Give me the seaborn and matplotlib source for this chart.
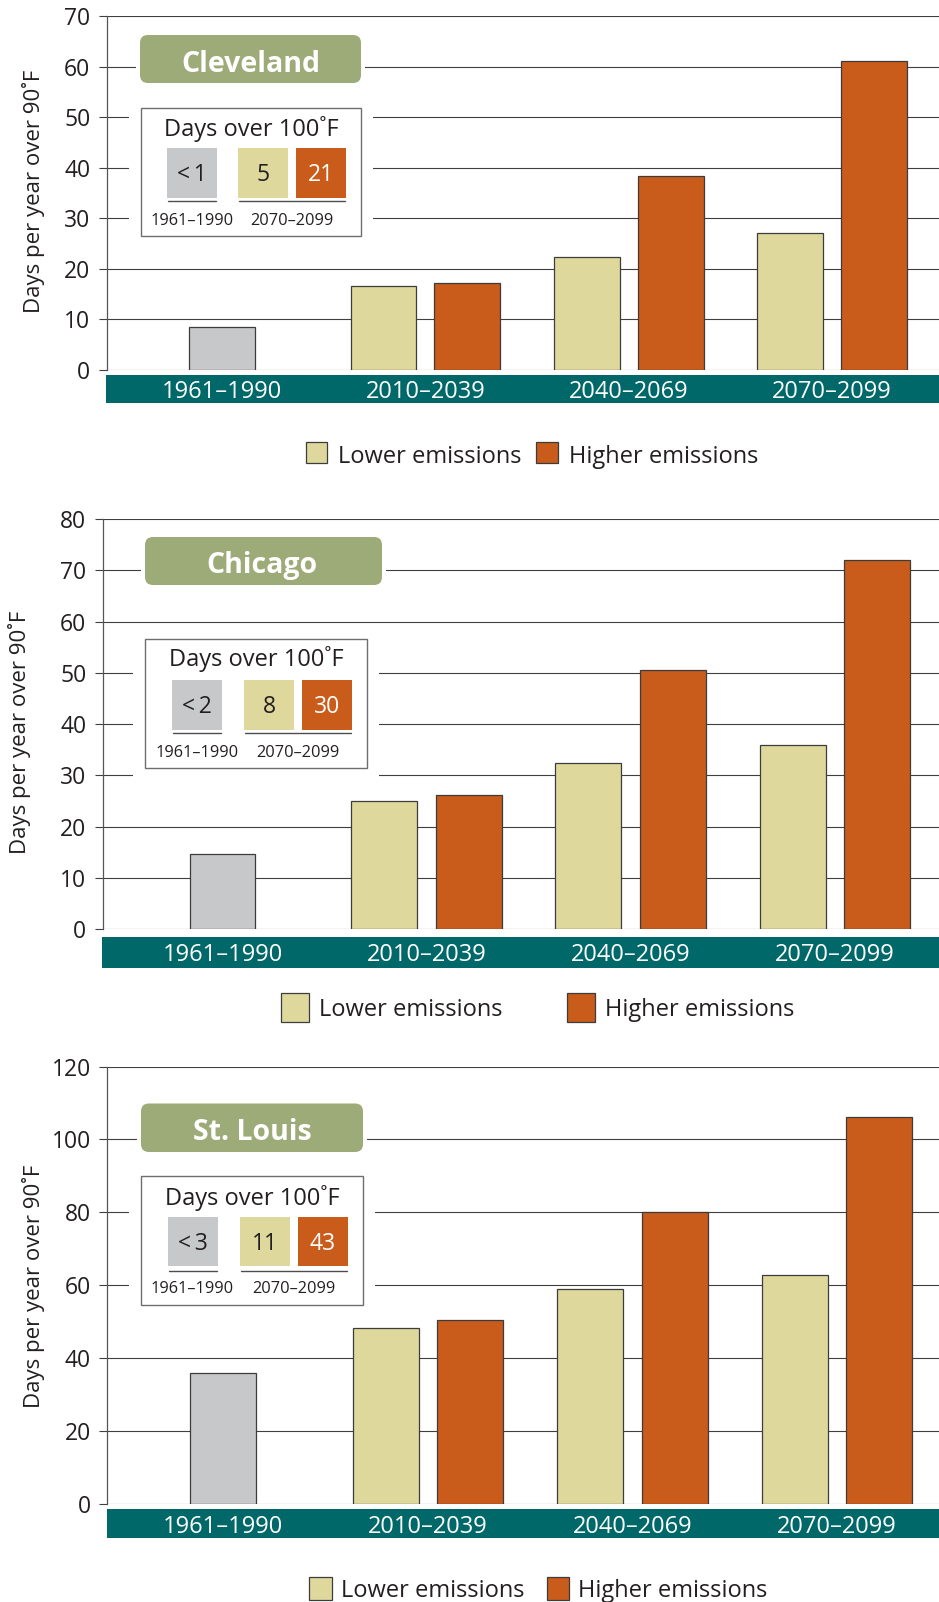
import matplotlib
matplotlib.use("Agg")
import matplotlib.pyplot as plt
import matplotlib.transforms as mtransforms
from matplotlib.patches import Rectangle, FancyBboxPatch
import pandas as pd
import seaborn as sns

# ---------------- data ----------------
periods = ["1961–1990", "2010–2039", "2040–2069", "2070–2099"]
scenarios = ["Lower emissions", "Higher emissions"]
cities = ["Cleveland", "Chicago", "St. Louis"]

cleveland_hist = [8.6]
cleveland_lower = [16.6, 22.4, 27.1]
cleveland_higher = [17.3, 38.3, 61.1]

chicago_hist = [14.6]
chicago_lower = [25.1, 32.4, 35.9]
chicago_higher = [26.2, 50.5, 72.0]

stlouis_hist = [36.1]
stlouis_lower = [48.4, 59.1, 62.9]
stlouis_higher = [50.4, 80.0, 106.1]

cleveland_over100 = ["<1", "5", "21"]
chicago_over100 = ["<2", "8", "30"]
stlouis_over100 = ["<3", "11", "43"]
inset_periods = ["1961–1990", "2070–2099"]

cleveland_yticks = [0, 10, 20, 30, 40, 50, 60, 70]
chicago_yticks = [0, 10, 20, 30, 40, 50, 60, 70, 80]
stlouis_yticks = [0, 20, 40, 60, 80, 100, 120]

ylabel_text = "Days per year over 90˚F"
inset_title_text = "Days over 100˚F"

# ---------------- style ----------------
GRAY = "#c7c8ca"
TAN = "#dfd89c"
ORANGE = "#c95c1b"
GREEN = "#9cab77"
TEAL = "#006869"
INK = "#231f20"
EDGE = "#3c3c3c"
GRID = "#3f3f3f"

W, H = 939, 1602
sns.set_style("white")
plt.rcParams["font.family"] = ["Open Sans", "DejaVu Sans"]

fig = plt.figure(figsize=(W / 100, H / 100), dpi=100)
fig.patch.set_facecolor("white")
overlay = fig.add_axes([0, 0, 1, 1], zorder=10)
overlay.set_xlim(0, W)
overlay.set_ylim(H, 0)
overlay.axis("off")
overlay.patch.set_alpha(0)

layouts = [
    dict(ax=(106.7, 16, 939, 370), xlim=(-0.567, 3.525), ylab=(34, 191.5),
         band=(106, 375, 403), band_base=398,
         title=(140, 35, 361, 83), title_base=71.7, title_cx=250.7,
         inset=(141, 108, 361, 236), inset_title=(251.5, 136),
         sw_y=(148, 198), sw_x=[(167, 217), (238, 288), (296, 346)],
         ul_y=201, ul=[(168, 216), (239, 345)], lab_y=225, lab_x=[192, 292],
         legend=[(306, 327, 442, 463, 338, 463), (536, 558, 442, 463, 569, 463)]),
    dict(ax=(102.7, 519, 939, 929.3), xlim=(-0.587, 3.512), ylab=(20, 732),
         band=(102, 936.7, 967.7), band_base=961,
         title=(145, 537, 382, 585), title_base=572.7, title_cx=262,
         inset=(145, 639, 367, 768), inset_title=(256.7, 665.7),
         sw_y=(680, 730), sw_x=[(172, 222), (244, 294), (302, 352)],
         ul_y=733, ul=[(173, 221), (245, 351)], lab_y=756.7, lab_x=[197, 297.5],
         legend=[(281, 309, 993, 1022, 319, 1016), (567, 595, 993, 1022, 605, 1016)]),
    dict(ax=(107.3, 1066.5, 939, 1504.2), xlim=(-0.567, 3.498), ylab=(34, 1286),
         band=(107, 1508.8, 1537.7), band_base=1533,
         title=(141, 1103.5, 363, 1152), title_base=1139.8, title_cx=252,
         inset=(141, 1176, 363, 1305), inset_title=(252.5, 1205),
         sw_y=(1217, 1266), sw_x=[(168, 218), (240, 290), (298, 348)],
         ul_y=1271, ul=[(169, 217), (241, 347)], lab_y=1293, lab_x=[192.5, 293.7],
         legend=[(309, 332, 1577, 1600, 341, 1597), (547, 569, 1577, 1600, 578, 1597)]),
]

panel_data = [
    (cleveland_hist, cleveland_lower, cleveland_higher, cleveland_yticks, cleveland_over100),
    (chicago_hist, chicago_lower, chicago_higher, chicago_yticks, chicago_over100),
    (stlouis_hist, stlouis_lower, stlouis_higher, stlouis_yticks, stlouis_over100),
]


def draw_panel(city, hist, lower, higher, yticks, over100, L):
    x0, ytop, x1, ybot = L["ax"]
    ax = fig.add_axes([x0 / W, 1 - ybot / H, (x1 - x0) / W, (ybot - ytop) / H])

    df_hist = pd.DataFrame({"period": periods[:1], "days": hist})
    df_fut = pd.DataFrame({
        "period": periods[1:] * 2,
        "scenario": [scenarios[0]] * len(lower) + [scenarios[1]] * len(higher),
        "days": lower + higher,
    })
    sns.barplot(data=df_hist, x="period", y="days", order=periods, color=GRAY,
                saturation=1, width=0.323, edgecolor=EDGE, linewidth=0.9,
                errorbar=None, ax=ax)
    sns.barplot(data=df_fut, x="period", y="days", hue="scenario", order=periods,
                hue_order=scenarios, palette=[TAN, ORANGE], saturation=1,
                width=0.824, gap=0.215, edgecolor=EDGE, linewidth=0.9,
                errorbar=None, legend=False, ax=ax)

    ax.set_xlim(*L["xlim"])
    ax.set_ylim(yticks[0], yticks[-1])
    ax.set_yticks(yticks)
    ax.set_xticks([])
    ax.set_xlabel("")
    ax.set_axisbelow(True)
    ax.grid(axis="y", color=GRID, linewidth=0.8)
    ax.grid(axis="x", visible=False)
    for s in ["top", "right", "bottom"]:
        ax.spines[s].set_visible(False)
    ax.spines["left"].set_color("#555555")
    ax.spines["left"].set_linewidth(0.9)
    ax.tick_params(axis="y", left=True, length=5.8, width=0.8, color=GRID,
                   pad=6.0, labelsize=16.5, labelcolor=INK)
    ax.set_ylabel(ylabel_text, fontsize=16, color=INK, va="center")
    ax.yaxis.set_label_coords((L["ylab"][0] - x0) / (x1 - x0),
                              (ybot - L["ylab"][1]) / (ybot - ytop))

    # teal category band
    bx0, by0, by1 = L["band"]
    overlay.add_patch(Rectangle((bx0, by0), W - bx0, by1 - by0,
                                facecolor=TEAL, edgecolor="none"))
    tr = mtransforms.blended_transform_factory(ax.transData, overlay.transData)
    for i, p in enumerate(periods):
        overlay.text(i, L["band_base"], p, transform=tr, ha="center",
                     va="baseline", color="white", fontsize=17)

    # city title box
    tx0, ty0, tx1, ty1 = L["title"]
    overlay.add_patch(Rectangle((tx0 - 4, ty0 - 3), tx1 - tx0 + 8, ty1 - ty0 + 6,
                                facecolor="white", edgecolor="none"))
    r = 8
    overlay.add_patch(FancyBboxPatch((tx0 + r, ty0 + r), tx1 - tx0 - 2 * r,
                                     ty1 - ty0 - 2 * r,
                                     boxstyle=f"round,pad={r}",
                                     facecolor=GREEN, edgecolor="none"))
    overlay.text(L["title_cx"], L["title_base"], city, ha="center", va="baseline",
                 color="white", fontsize=20.5, fontweight="bold")

    # inset box
    ix0, iy0, ix1, iy1 = L["inset"]
    m = 12
    overlay.add_patch(Rectangle((ix0 - m, iy0 - m), ix1 - ix0 + 2 * m,
                                iy1 - iy0 + 2 * m, facecolor="white",
                                edgecolor="none"))
    overlay.add_patch(Rectangle((ix0, iy0), ix1 - ix0, iy1 - iy0,
                                facecolor="white", edgecolor="#6d6e70",
                                linewidth=1.0))
    overlay.text(L["inset_title"][0], L["inset_title"][1], inset_title_text,
                 ha="center", va="baseline", color=INK, fontsize=17)
    sy0, sy1 = L["sw_y"]
    for (sx0, sx1), col, val, tc in zip(L["sw_x"], [GRAY, TAN, ORANGE], over100,
                                        [INK, INK, "white"]):
        overlay.add_patch(Rectangle((sx0, sy0), sx1 - sx0, sy1 - sy0,
                                    facecolor=col, edgecolor="none"))
        overlay.text((sx0 + sx1) / 2, (sy0 + sy1) / 2 + 8.0,
                     val.replace("<", "<\u2009"), ha="center",
                     va="baseline", color=tc, fontsize=16.5)
    for ux0, ux1 in L["ul"]:
        overlay.plot([ux0, ux1], [L["ul_y"], L["ul_y"]], color="#4d4d4f", lw=1.0)
    for cx, lab in zip(L["lab_x"], inset_periods):
        overlay.text(cx, L["lab_y"], lab, ha="center", va="baseline", color=INK,
                     fontsize=11.8)

    # legend
    for (qx0, qx1, qy0, qy1, txx, tb), lab, col in zip(L["legend"], scenarios,
                                                       [TAN, ORANGE]):
        overlay.add_patch(Rectangle((qx0, qy0), qx1 - qx0, qy1 - qy0,
                                    facecolor=col, edgecolor=EDGE, linewidth=0.9))
        overlay.text(txx, tb, lab, ha="left", va="baseline", color=INK,
                     fontsize=17)


for city, pdat, L in zip(cities, panel_data, layouts):
    draw_panel(city, *pdat, L)

fig.savefig("out.png", dpi=100, facecolor="white")
